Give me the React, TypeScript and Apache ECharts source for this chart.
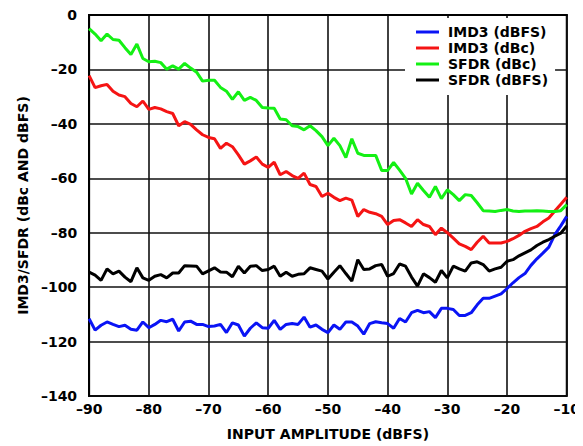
import React, { useEffect, useRef } from "react";
import * as echarts from "echarts";

const inputAmplitude: number[] = [
  -90, -89, -88, -87, -86, -85, -84, -83, -82, -81, -80, -79, -78, -77, -76, -75, -74, -73, -72, -71,
  -70, -69, -68, -67, -66, -65, -64, -63, -62, -61, -60, -59, -58, -57, -56, -55, -54, -53, -52, -51,
  -50, -49, -48, -47, -46, -45, -44, -43, -42, -41, -40, -39, -38, -37, -36, -35, -34, -33, -32, -31,
  -30, -29, -28, -27, -26, -25, -24, -23, -22, -21, -20, -19, -18, -17, -16, -15, -14, -13, -12, -11, -10,
];

const imd3Dbfs: number[] = [
  -111.6, -115.8, -114, -112.8, -113.7, -114.5, -114, -115.5, -115.8, -112.8,
  -114.9, -113.7, -112.2, -112.7, -111.8, -116.1, -112.8, -112.5, -113.7, -113.7,
  -114.5, -114.3, -113.7, -116.7, -113.1, -113.9, -118, -115.1, -113.1, -114.9,
  -115.1, -112.2, -115.5, -113.7, -113.4, -113.7, -111, -114.7, -113.9, -115.5,
  -116.7, -113.9, -115.5, -112.8, -112.8, -114.3, -117.3, -113.4, -112.7, -113.1,
  -113.4, -115.1, -111.5, -112.8, -109.4, -108.5, -109.4, -109, -111.2, -107.8,
  -107.8, -108.2, -110.4, -110.4, -109.4, -106.5, -104.1, -104.1, -103.3, -102.5,
  -100.5, -98.4, -96.5, -95, -92, -89.6, -87.5, -85.3, -80.7, -77.5, -74,
];

const imd3Dbc: number[] = [
  -22.3, -26.7, -26, -25.5, -28, -29.4, -30, -32.5, -33.7, -31.6,
  -34.7, -34, -34.5, -35.5, -36.2, -40.7, -39.2, -40.2, -42.2, -44,
  -45, -45.5, -49, -47.1, -48.4, -51.4, -54.8, -53.6, -52.2, -54.8,
  -56, -54.1, -58.7, -57.5, -59, -60, -58.1, -62.3, -63, -66.7,
  -65.5, -67, -68.2, -67.3, -68, -74, -71.5, -72.5, -73, -74,
  -77, -75.5, -75.2, -76.4, -77.7, -75.2, -77, -77.7, -80.7, -78.3,
  -80, -82, -84.1, -85, -86.2, -83.5, -81.3, -83.8, -83.8, -83.8,
  -83.2, -82.2, -81, -79.5, -78.5, -77.7, -76, -74.6, -72, -69.5, -67,
];

const sfdrDbc: number[] = [
  -5, -7, -9.5, -7, -9, -9.3, -12, -14.5, -10.7, -16,
  -17.2, -17, -17.5, -19.9, -18.7, -19.9, -17.8, -19.5, -21, -24.3,
  -24, -24, -26.6, -28, -31, -28.2, -31.4, -30.3, -31.4, -34,
  -34.2, -34.3, -38.2, -38.5, -40.7, -41, -42.2, -40.7, -42.5, -44.7,
  -48, -45.3, -48, -52.4, -45.5, -50.8, -51.6, -51.6, -51.6, -57.1,
  -57.1, -54.2, -57, -60, -65.8, -61.8, -64.5, -67, -63, -67.5,
  -64.2, -66, -68.2, -66, -66.3, -69, -71.9, -72, -72.2, -71.8,
  -71.5, -72, -72.2, -72, -72, -71.9, -72, -72.2, -72.2, -71.9, -69.7,
];

const sfdrDbfs: number[] = [
  -94.5, -95.6, -97.5, -93.3, -95.1, -94.1, -96.3, -98, -92.9, -96.6,
  -97.5, -96, -95.4, -96.6, -94.8, -94.8, -92.1, -92.2, -92.3, -95.1,
  -94, -92.9, -94.4, -94.5, -96.2, -92.3, -94.8, -92.3, -92.1, -93.9,
  -93.5, -92.3, -96, -94.5, -96, -95.3, -95.1, -92.9, -93.5, -94.1,
  -97, -94.5, -92.1, -95, -97.8, -89.9, -93.5, -93.3, -92.1, -91.7,
  -96, -95, -91.5, -92.3, -96.3, -99.6, -95.1, -96.5, -98.2, -93.9,
  -96.6, -92.3, -93.3, -94.1, -91.1, -90.7, -91.7, -94.1, -93.3, -92.7,
  -90.5, -89.9, -88.5, -87.4, -86.3, -84.7, -83.5, -82.5, -81.3, -80.2, -77.5,
];

const seriesNames: string[] = ["IMD3 (dBFS)", "IMD3 (dBc)", "SFDR (dBc)", "SFDR (dBFS)"];
const seriesColors: string[] = ["#0a14f5", "#f51414", "#14f014", "#000000"];
const seriesValues: number[][] = [imd3Dbfs, imd3Dbc, sfdrDbc, sfdrDbfs];

const FONT = "'DejaVu Sans', 'Liberation Sans', Arial, sans-serif";
const fmt = (v: number) => (v < 0 ? "\u2013" + Math.abs(v) : String(v));

export default function App() {
  const ref = useRef<HTMLDivElement>(null);
  useEffect(() => {
    if (!ref.current) return;
    const chart = echarts.init(ref.current, undefined, { renderer: "svg" });
    chart.setOption({
      animation: false,
      backgroundColor: "#ffffff",
      grid: {
        left: 71,
        right: 13,
        top: 5,
        bottom: 43,
        show: true,
        borderColor: "#000",
        borderWidth: 2,
      },
      legend: {
        data: seriesNames,
        orient: "vertical",
        left: 397,
        top: 10,
        width: 150,
        padding: [6, 7, 7, 11],
        itemGap: 0,
        itemWidth: 23,
        itemHeight: 3,
        icon: "rect",
        backgroundColor: "#ffffff",
        textStyle: {
          fontFamily: FONT,
          fontWeight: "bold",
          fontSize: 14,
          color: "#000",
          lineHeight: 16,
          padding: [0, 0, 0, 4],
        },
      },
      xAxis: {
        type: "value",
        min: -90,
        max: -10,
        interval: 10,
        name: "INPUT AMPLITUDE (dBFS)",
        nameLocation: "middle",
        nameGap: 31,
        nameTextStyle: { fontFamily: FONT, fontWeight: "bold", fontSize: 14, color: "#000" },
        axisLine: { show: true, lineStyle: { color: "#000", width: 2 } },
        axisTick: { show: false },
        axisLabel: {
          formatter: fmt,
          fontFamily: FONT,
          fontWeight: "bold",
          fontSize: 14,
          color: "#000",
          margin: 6,
        },
        splitLine: { show: true, lineStyle: { color: "#111", width: 1.6 } },
      },
      yAxis: {
        type: "value",
        min: -140,
        max: 0,
        interval: 20,
        name: "IMD3/SFDR (dBc AND dBFS)",
        nameLocation: "middle",
        nameGap: 42,
        nameTextStyle: { fontFamily: FONT, fontWeight: "bold", fontSize: 14, color: "#000" },
        axisLine: { show: true, lineStyle: { color: "#000", width: 2 } },
        axisTick: { show: false },
        axisLabel: {
          formatter: fmt,
          fontFamily: FONT,
          fontWeight: "bold",
          fontSize: 14,
          color: "#000",
          margin: 12,
        },
        splitLine: { show: true, lineStyle: { color: "#111", width: 1.6 } },
      },
      series: seriesNames.map((name, i) => ({
        name,
        type: "line",
        data: inputAmplitude.map((x, j) => [x, seriesValues[i][j]]),
        showSymbol: false,
        symbol: "none",
        color: seriesColors[i],
        lineStyle: { color: seriesColors[i], width: 3 },
        z: 2 + i,
      })),
    });
    return () => chart.dispose();
  }, []);
  return <div ref={ref} style={{ width: 575, height: 438 }} />;
}
